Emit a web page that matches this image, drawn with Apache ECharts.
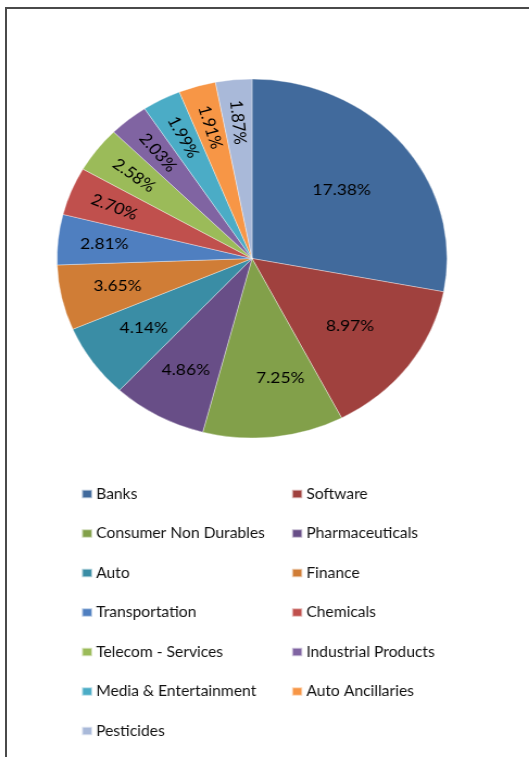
<!DOCTYPE html>
<html>
<head>
<meta charset="utf-8">
<script src="https://cdn.jsdelivr.net/npm/echarts@6/dist/echarts.min.js"></script>
<style>
  html, body { margin: 0; padding: 0; background: #fff; overflow: hidden; }
  #frame {
    position: absolute; left: 5px; top: 7px; width: 530px; height: 760px;
    border-top: 2px solid #4a4a4a; border-left: 2px solid #4a4a4a;
  }
  #chart {
    position: absolute; left: 0; top: 0; width: 487px; height: 757px;
    transform: scaleX(1.0864); transform-origin: 0 0;
  }
</style>
</head>
<body>
<div id="frame"></div>
<div id="chart"></div>
<script>
// Sector allocation (% of net assets)
const categories = [
  'Banks', 'Software', 'Consumer Non Durables', 'Pharmaceuticals', 'Auto',
  'Finance', 'Transportation', 'Chemicals', 'Telecom - Services',
  'Industrial Products', 'Media & Entertainment', 'Auto Ancillaries', 'Pesticides'
];
const weights = [17.38, 8.97, 7.25, 4.86, 4.14, 3.65, 2.81, 2.70, 2.58, 2.03, 1.99, 1.91, 1.87];
const colors = [
  '#416A9C', '#A0413E', '#82A04A', '#684E87', '#3A8DA5', '#D07D36',
  '#4F7FC0', '#C0504D', '#9BBB59', '#8064A2', '#4BACC6', '#F79646', '#A9B9D9'
];

const FONT = 'Lato, "Open Sans", sans-serif';
const R = 179.5;
const CENTER = [232, 258.5];

// label bands: which slices get their label at which radial depth
const bands = [
  { inner: 0.16, items: [0] },
  { inner: 0.22, items: [1] },
  { inner: 0.38, items: [2, 3, 4, 5] },
  { inner: 0.49, items: [6, 7, 8, 9, 10, 11, 12] }
];
const radialFrom = 7; // slices from this index on carry radial labels
// small nudges for a couple of labels
const labelNudge = { 2: [12, -7], 4: [4, -4] };

const fmt = p => p.value.toFixed(2) + '%';

const series = [{
  type: 'pie',
  radius: [0, R],
  center: CENTER,
  startAngle: 90,
  clockwise: true,
  silent: true,
  avoidLabelOverlap: false,
  label: { show: false },
  labelLine: { show: false },
  itemStyle: { borderColor: 'rgba(255,255,255,0.6)', borderWidth: 0.6 },
  data: categories.map((name, i) => ({ name, value: weights[i], itemStyle: { color: colors[i] } }))
}];

bands.forEach(b => {
  series.push({
    type: 'pie',
    radius: [b.inner * R, R],
    center: CENTER,
    startAngle: 90,
    clockwise: true,
    silent: true,
    avoidLabelOverlap: false,
    labelLine: { show: false },
    emphasis: { disabled: true },
    itemStyle: { color: 'rgba(0,0,0,0)', borderWidth: 0 },
    label: {
      position: 'inside', color: '#000', fontFamily: FONT, fontSize: 16, formatter: fmt
    },
    data: categories.map((name, i) => ({
      name,
      value: weights[i],
      itemStyle: { color: 'rgba(0,0,0,0)' },
      label: {
        show: b.items.indexOf(i) >= 0,
        rotate: i >= radialFrom ? 'radial' : 0,
        offset: labelNudge[i] || [0, 0]
      }
    }))
  });
});

const legendBase = {
  orient: 'vertical',
  top: 486,
  icon: 'rect',
  itemWidth: 9.5,
  itemHeight: 8.5,
  itemGap: 23.5,
  selectedMode: false,
  textStyle: { fontFamily: FONT, fontSize: 14.4, lineHeight: 16, color: '#111', padding: [0, 0, 0, -1.4] },
  padding: 0
};

const chart = echarts.init(document.getElementById('chart'), null, { renderer: 'canvas' });
chart.setOption({
  animation: false,
  backgroundColor: 'transparent',
  color: colors,
  legend: [
    Object.assign({}, legendBase, { left: 74.4, data: categories.filter((_, i) => i % 2 === 0) }),
    Object.assign({}, legendBase, { left: 267.8, data: categories.filter((_, i) => i % 2 === 1) })
  ],
  series
});
</script>
</body>
</html>
